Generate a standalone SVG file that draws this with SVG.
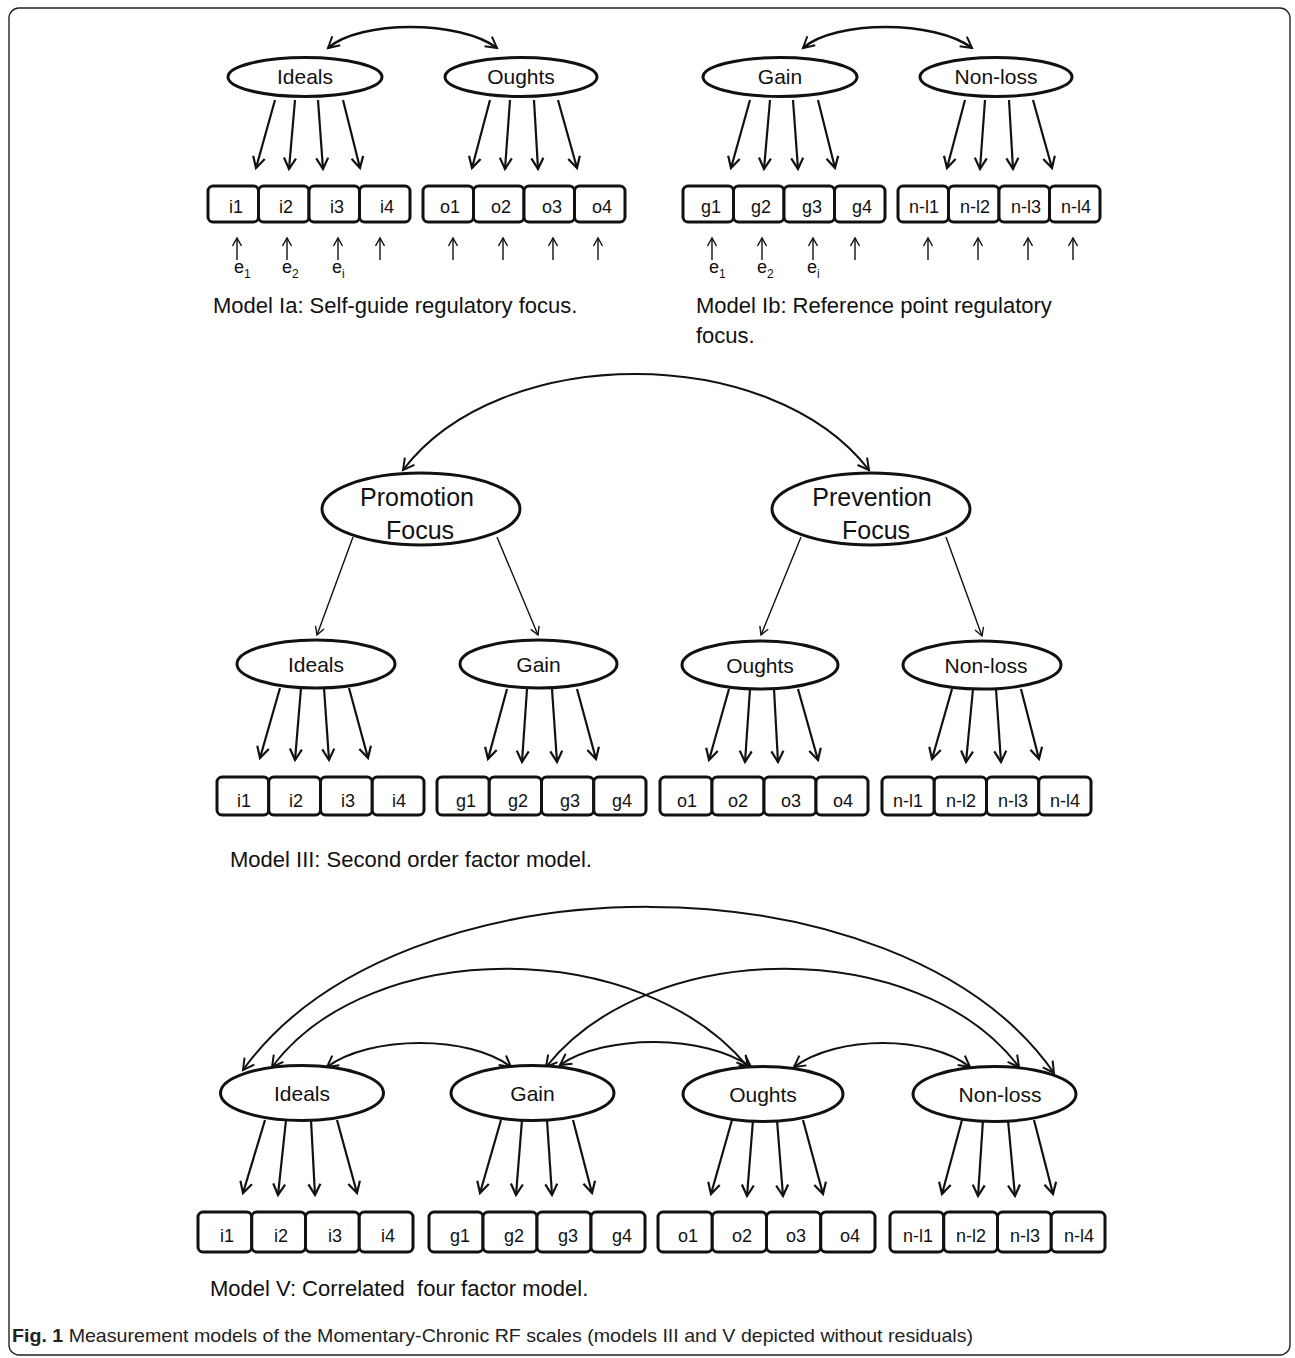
<svg xmlns="http://www.w3.org/2000/svg" width="1295" height="1358" viewBox="0 0 1295 1358">
<defs>
<style>
.frame{fill:none;stroke:#222;stroke-width:1.4}
.el{fill:#fff;stroke:#111;stroke-width:3}
.bx{fill:#fff;stroke:#111;stroke-width:3}
.lt{font-family:"Liberation Sans",Arial,sans-serif;font-size:21px;fill:#111;text-anchor:middle}
.lb{font-family:"Liberation Sans",Arial,sans-serif;font-size:18px;fill:#111;text-anchor:middle}
.cap{font-family:"Liberation Sans",Arial,sans-serif;font-size:22px;fill:#111;white-space:pre}
.ld{fill:none;stroke:#111;stroke-width:2.2;marker-end:url(#ah)}
.hl{fill:none;stroke:#111;stroke-width:1.4;marker-end:url(#ahs)}
.er{fill:none;stroke:#111;stroke-width:1.4;marker-end:url(#ahs)}
.cv{fill:none;stroke:#111;stroke-width:2.4;marker-start:url(#ahc);marker-end:url(#ahc)}
.cvt{fill:none;stroke:#111;stroke-width:2;marker-start:url(#ahc);marker-end:url(#ahc)}
.et{font-family:"Liberation Sans",Arial,sans-serif;font-size:18px;fill:#111}
</style>
<marker id="ah" markerUnits="userSpaceOnUse" viewBox="0 0 14 14" markerWidth="14" markerHeight="14" refX="12" refY="7" orient="auto" overflow="visible"><path d="M1,1 L12,7 L1,13" fill="none" stroke="#111" stroke-width="2.2" stroke-linejoin="miter"/></marker>
<marker id="ahs" markerUnits="userSpaceOnUse" viewBox="0 0 10 10" markerWidth="10" markerHeight="10" refX="9" refY="5" orient="auto" overflow="visible"><path d="M1,0.5 L9,5 L1,9.5" fill="none" stroke="#111" stroke-width="1.4"/></marker>
<marker id="ahc" markerUnits="userSpaceOnUse" viewBox="0 0 14 14" markerWidth="14" markerHeight="14" refX="12" refY="7" orient="auto-start-reverse" overflow="visible"><path d="M1,1 L12,7 L1,13" fill="none" stroke="#111" stroke-width="2"/></marker>
</defs>
<rect class="frame" x="9" y="8" width="1281" height="1347" rx="10"/>

<g id="connectors">
<!-- Model Ia -->
<path class="cv" d="M328,48 C360,20 460,20 497,48"/>
<path class="ld" d="M275,100 L256,168"/>
<path class="ld" d="M295,100 L289,169"/>
<path class="ld" d="M318,100 L323,169"/>
<path class="ld" d="M343,100 L360,168"/>
<path class="ld" d="M490,100 L472,168"/>
<path class="ld" d="M510,100 L505,169"/>
<path class="ld" d="M534,100 L538,169"/>
<path class="ld" d="M558,100 L577,168"/>
<path class="er" d="M237,260 L237,238"/>
<path class="er" d="M287,260 L287,238"/>
<path class="er" d="M338,260 L338,238"/>
<path class="er" d="M380,260 L380,238"/>
<path class="er" d="M453,260 L453,238"/>
<path class="er" d="M503,260 L503,238"/>
<path class="er" d="M553,260 L553,238"/>
<path class="er" d="M598,260 L598,238"/>
<!-- Model Ib -->
<path class="cv" d="M803,48 C835,20 935,20 972,48"/>
<path class="ld" d="M750,100 L731,168"/>
<path class="ld" d="M770,100 L764,169"/>
<path class="ld" d="M793,100 L798,169"/>
<path class="ld" d="M818,100 L835,168"/>
<path class="ld" d="M965,100 L947,168"/>
<path class="ld" d="M985,100 L980,169"/>
<path class="ld" d="M1009,100 L1013,169"/>
<path class="ld" d="M1033,100 L1052,168"/>
<path class="er" d="M712,260 L712,238"/>
<path class="er" d="M762,260 L762,238"/>
<path class="er" d="M813,260 L813,238"/>
<path class="er" d="M855,260 L855,238"/>
<path class="er" d="M928,260 L928,238"/>
<path class="er" d="M978,260 L978,238"/>
<path class="er" d="M1028,260 L1028,238"/>
<path class="er" d="M1073,260 L1073,238"/>
<!-- Model III -->
<path class="cvt" d="M403,470 C500,342 770,342 869,470"/>
<path class="hl" d="M353,537 L317,635"/>
<path class="hl" d="M497,537 L538,635"/>
<path class="hl" d="M801,537 L761,635"/>
<path class="hl" d="M946,537 L982,636"/>
<path class="ld" d="M280,688 L260,758"/>
<path class="ld" d="M301,688 L295,760"/>
<path class="ld" d="M324,688 L329,760"/>
<path class="ld" d="M349,688 L368,758"/>
<path class="ld" d="M507,689 L488,759"/>
<path class="ld" d="M527,689 L522,762"/>
<path class="ld" d="M552,689 L557,762"/>
<path class="ld" d="M577,689 L596,759"/>
<path class="ld" d="M729,689 L709,760"/>
<path class="ld" d="M750,689 L745,762"/>
<path class="ld" d="M774,689 L778,762"/>
<path class="ld" d="M798,689 L818,760"/>
<path class="ld" d="M952,689 L932,759"/>
<path class="ld" d="M973,689 L966,762"/>
<path class="ld" d="M996,689 L1001,762"/>
<path class="ld" d="M1021,689 L1039,759"/>
<!-- Model V -->
<path class="cvt" d="M243,1070 C400,852 900,852 1054,1073"/>
<path class="cvt" d="M272,1067 C370,936 640,936 748,1067"/>
<path class="cvt" d="M546,1067 C650,936 920,936 1019,1067"/>
<path class="cvt" d="M327,1067 C370,1035 470,1035 511,1067"/>
<path class="cvt" d="M560,1065 C605,1034 705,1034 751,1067"/>
<path class="cvt" d="M794,1067 C838,1035 928,1035 970,1067"/>
<path class="ld" d="M265,1120 L243,1193"/>
<path class="ld" d="M286,1120 L278,1195"/>
<path class="ld" d="M311,1120 L315,1195"/>
<path class="ld" d="M337,1120 L357,1193"/>
<path class="ld" d="M501,1120 L480,1193"/>
<path class="ld" d="M522,1120 L516,1195"/>
<path class="ld" d="M547,1120 L552,1195"/>
<path class="ld" d="M573,1120 L592,1193"/>
<path class="ld" d="M732,1120 L711,1194"/>
<path class="ld" d="M753,1120 L747,1196"/>
<path class="ld" d="M777,1120 L783,1196"/>
<path class="ld" d="M803,1120 L823,1194"/>
<path class="ld" d="M962,1120 L942,1194"/>
<path class="ld" d="M983,1120 L978,1196"/>
<path class="ld" d="M1008,1120 L1015,1196"/>
<path class="ld" d="M1034,1120 L1053,1194"/>
</g>

<!-- Model Ia nodes -->
<g id="ia-ideals"><ellipse class="el" cx="305" cy="77" rx="77" ry="19.5"/><text class="lt" x="305" y="84">Ideals</text></g>
<g id="ia-oughts"><ellipse class="el" cx="521" cy="77" rx="76" ry="19.5"/><text class="lt" x="521" y="84">Oughts</text></g>
<g id="ia-i1"><rect class="bx" x="208" y="186" width="50.5" height="36" rx="5"/><text class="lb" x="236" y="213">i1</text></g>
<g id="ia-i2"><rect class="bx" x="258.5" y="186" width="50.5" height="36" rx="5"/><text class="lb" x="286" y="213">i2</text></g>
<g id="ia-i3"><rect class="bx" x="309" y="186" width="50.5" height="36" rx="5"/><text class="lb" x="337" y="213">i3</text></g>
<g id="ia-i4"><rect class="bx" x="359.5" y="186" width="50.5" height="36" rx="5"/><text class="lb" x="387" y="213">i4</text></g>
<g id="ia-o1"><rect class="bx" x="423" y="186" width="50.5" height="36" rx="5"/><text class="lb" x="450" y="213">o1</text></g>
<g id="ia-o2"><rect class="bx" x="473.5" y="186" width="50.5" height="36" rx="5"/><text class="lb" x="501" y="213">o2</text></g>
<g id="ia-o3"><rect class="bx" x="524" y="186" width="50.5" height="36" rx="5"/><text class="lb" x="552" y="213">o3</text></g>
<g id="ia-o4"><rect class="bx" x="574.5" y="186" width="50.5" height="36" rx="5"/><text class="lb" x="602" y="213">o4</text></g>
<g id="ia-errors">
<text class="et" x="234" y="273">e<tspan font-size="12" dy="5">1</tspan></text>
<text class="et" x="282" y="273">e<tspan font-size="12" dy="5">2</tspan></text>
<text class="et" x="332" y="273">e<tspan font-size="12" dy="5">i</tspan></text>
</g>
<text class="cap" x="213" y="313">Model Ia: Self-guide regulatory focus.</text>

<!-- Model Ib nodes -->
<g id="ib-gain"><ellipse class="el" cx="780" cy="77" rx="77" ry="19.5"/><text class="lt" x="780" y="84">Gain</text></g>
<g id="ib-nonloss"><ellipse class="el" cx="996" cy="77" rx="76" ry="19.5"/><text class="lt" x="996" y="84">Non-loss</text></g>
<g id="ib-g1"><rect class="bx" x="683" y="186" width="50.5" height="36" rx="5"/><text class="lb" x="711" y="213">g1</text></g>
<g id="ib-g2"><rect class="bx" x="733.5" y="186" width="50.5" height="36" rx="5"/><text class="lb" x="761" y="213">g2</text></g>
<g id="ib-g3"><rect class="bx" x="784" y="186" width="50.5" height="36" rx="5"/><text class="lb" x="812" y="213">g3</text></g>
<g id="ib-g4"><rect class="bx" x="834.5" y="186" width="50.5" height="36" rx="5"/><text class="lb" x="862" y="213">g4</text></g>
<g id="ib-nl1"><rect class="bx" x="898" y="186" width="50.5" height="36" rx="5"/><text class="lb" x="924" y="213">n-l1</text></g>
<g id="ib-nl2"><rect class="bx" x="948.5" y="186" width="50.5" height="36" rx="5"/><text class="lb" x="975" y="213">n-l2</text></g>
<g id="ib-nl3"><rect class="bx" x="999" y="186" width="50.5" height="36" rx="5"/><text class="lb" x="1026" y="213">n-l3</text></g>
<g id="ib-nl4"><rect class="bx" x="1049.5" y="186" width="50.5" height="36" rx="5"/><text class="lb" x="1076" y="213">n-l4</text></g>
<g id="ib-errors">
<text class="et" x="709" y="273">e<tspan font-size="12" dy="5">1</tspan></text>
<text class="et" x="757" y="273">e<tspan font-size="12" dy="5">2</tspan></text>
<text class="et" x="807" y="273">e<tspan font-size="12" dy="5">i</tspan></text>
</g>
<text class="cap" x="696" y="313">Model Ib: Reference point regulatory</text>
<text class="cap" x="696" y="343">focus.</text>

<!-- Model III nodes -->
<g id="iii-promotion"><ellipse class="el" cx="421" cy="509" rx="99" ry="36"/><text class="lt" x="417" y="506" style="font-size:25px">Promotion</text><text class="lt" x="420" y="539" style="font-size:25px">Focus</text></g>
<g id="iii-prevention"><ellipse class="el" cx="871" cy="509" rx="99" ry="36"/><text class="lt" x="872" y="506" style="font-size:25px">Prevention</text><text class="lt" x="876" y="539" style="font-size:25px">Focus</text></g>
<g id="iii-ideals"><ellipse class="el" cx="316" cy="664" rx="79" ry="24"/><text class="lt" x="316" y="672">Ideals</text></g>
<g id="iii-gain"><ellipse class="el" cx="538.5" cy="664" rx="78.5" ry="24"/><text class="lt" x="538.5" y="672">Gain</text></g>
<g id="iii-oughts"><ellipse class="el" cx="760" cy="665" rx="78" ry="24"/><text class="lt" x="760" y="673">Oughts</text></g>
<g id="iii-nonloss"><ellipse class="el" cx="982" cy="665" rx="79" ry="24"/><text class="lt" x="986" y="673">Non-loss</text></g>
<g id="iii-i1"><rect class="bx" x="217" y="777" width="51.75" height="38" rx="5"/><text class="lb" x="244" y="807">i1</text></g>
<g id="iii-i2"><rect class="bx" x="268.75" y="777" width="51.75" height="38" rx="5"/><text class="lb" x="296" y="807">i2</text></g>
<g id="iii-i3"><rect class="bx" x="320.5" y="777" width="51.75" height="38" rx="5"/><text class="lb" x="348" y="807">i3</text></g>
<g id="iii-i4"><rect class="bx" x="372.25" y="777" width="51.75" height="38" rx="5"/><text class="lb" x="399" y="807">i4</text></g>
<g id="iii-g1"><rect class="bx" x="437" y="777" width="52.25" height="38" rx="5"/><text class="lb" x="466" y="807">g1</text></g>
<g id="iii-g2"><rect class="bx" x="489.25" y="777" width="52.25" height="38" rx="5"/><text class="lb" x="518" y="807">g2</text></g>
<g id="iii-g3"><rect class="bx" x="541.5" y="777" width="52.25" height="38" rx="5"/><text class="lb" x="570" y="807">g3</text></g>
<g id="iii-g4"><rect class="bx" x="593.75" y="777" width="52.25" height="38" rx="5"/><text class="lb" x="622" y="807">g4</text></g>
<g id="iii-o1"><rect class="bx" x="660" y="777" width="52" height="38" rx="5"/><text class="lb" x="687" y="807">o1</text></g>
<g id="iii-o2"><rect class="bx" x="712" y="777" width="52" height="38" rx="5"/><text class="lb" x="738" y="807">o2</text></g>
<g id="iii-o3"><rect class="bx" x="764" y="777" width="52" height="38" rx="5"/><text class="lb" x="791" y="807">o3</text></g>
<g id="iii-o4"><rect class="bx" x="816" y="777" width="52" height="38" rx="5"/><text class="lb" x="843" y="807">o4</text></g>
<g id="iii-nl1"><rect class="bx" x="882" y="777" width="52.25" height="38" rx="5"/><text class="lb" x="908" y="807">n-l1</text></g>
<g id="iii-nl2"><rect class="bx" x="934.25" y="777" width="52.25" height="38" rx="5"/><text class="lb" x="961" y="807">n-l2</text></g>
<g id="iii-nl3"><rect class="bx" x="986.5" y="777" width="52.25" height="38" rx="5"/><text class="lb" x="1013" y="807">n-l3</text></g>
<g id="iii-nl4"><rect class="bx" x="1038.75" y="777" width="52.25" height="38" rx="5"/><text class="lb" x="1065" y="807">n-l4</text></g>
<text class="cap" x="230" y="867">Model III: Second order factor model.</text>

<!-- Model V nodes -->
<g id="v-ideals"><ellipse class="el" cx="302" cy="1093" rx="81.5" ry="27.5"/><text class="lt" x="302" y="1101">Ideals</text></g>
<g id="v-gain"><ellipse class="el" cx="532.5" cy="1093" rx="81.5" ry="27.5"/><text class="lt" x="532.5" y="1101">Gain</text></g>
<g id="v-oughts"><ellipse class="el" cx="763" cy="1094" rx="80" ry="27.5"/><text class="lt" x="763" y="1102">Oughts</text></g>
<g id="v-nonloss"><ellipse class="el" cx="994.5" cy="1094" rx="81.5" ry="27.5"/><text class="lt" x="1000" y="1102">Non-loss</text></g>
<g id="v-i1"><rect class="bx" x="198" y="1212" width="53.75" height="40" rx="5"/><text class="lb" x="227" y="1242">i1</text></g>
<g id="v-i2"><rect class="bx" x="251.75" y="1212" width="53.75" height="40" rx="5"/><text class="lb" x="281" y="1242">i2</text></g>
<g id="v-i3"><rect class="bx" x="305.5" y="1212" width="53.75" height="40" rx="5"/><text class="lb" x="335" y="1242">i3</text></g>
<g id="v-i4"><rect class="bx" x="359.25" y="1212" width="53.75" height="40" rx="5"/><text class="lb" x="388" y="1242">i4</text></g>
<g id="v-g1"><rect class="bx" x="429" y="1212" width="54" height="40" rx="5"/><text class="lb" x="460" y="1242">g1</text></g>
<g id="v-g2"><rect class="bx" x="483" y="1212" width="54" height="40" rx="5"/><text class="lb" x="514" y="1242">g2</text></g>
<g id="v-g3"><rect class="bx" x="537" y="1212" width="54" height="40" rx="5"/><text class="lb" x="568" y="1242">g3</text></g>
<g id="v-g4"><rect class="bx" x="591" y="1212" width="54" height="40" rx="5"/><text class="lb" x="622" y="1242">g4</text></g>
<g id="v-o1"><rect class="bx" x="658" y="1212" width="54.25" height="40" rx="5"/><text class="lb" x="688" y="1242">o1</text></g>
<g id="v-o2"><rect class="bx" x="712.25" y="1212" width="54.25" height="40" rx="5"/><text class="lb" x="742" y="1242">o2</text></g>
<g id="v-o3"><rect class="bx" x="766.5" y="1212" width="54.25" height="40" rx="5"/><text class="lb" x="796" y="1242">o3</text></g>
<g id="v-o4"><rect class="bx" x="820.75" y="1212" width="54.25" height="40" rx="5"/><text class="lb" x="850" y="1242">o4</text></g>
<g id="v-nl1"><rect class="bx" x="890" y="1212" width="53.75" height="40" rx="5"/><text class="lb" x="918" y="1242">n-l1</text></g>
<g id="v-nl2"><rect class="bx" x="943.75" y="1212" width="53.75" height="40" rx="5"/><text class="lb" x="971" y="1242">n-l2</text></g>
<g id="v-nl3"><rect class="bx" x="997.5" y="1212" width="53.75" height="40" rx="5"/><text class="lb" x="1025" y="1242">n-l3</text></g>
<g id="v-nl4"><rect class="bx" x="1051.25" y="1212" width="53.75" height="40" rx="5"/><text class="lb" x="1079" y="1242">n-l4</text></g>
<text class="cap" x="210" y="1296" xml:space="preserve">Model V: Correlated  four factor model.</text>

<text x="12" y="1342" textLength="961" lengthAdjust="spacingAndGlyphs" style="font-family:'Liberation Sans',Arial,sans-serif;font-size:19px;fill:#222"><tspan font-weight="bold">Fig. 1</tspan> Measurement models of the Momentary-Chronic RF scales (models III and V depicted without residuals)</text>
</svg>
